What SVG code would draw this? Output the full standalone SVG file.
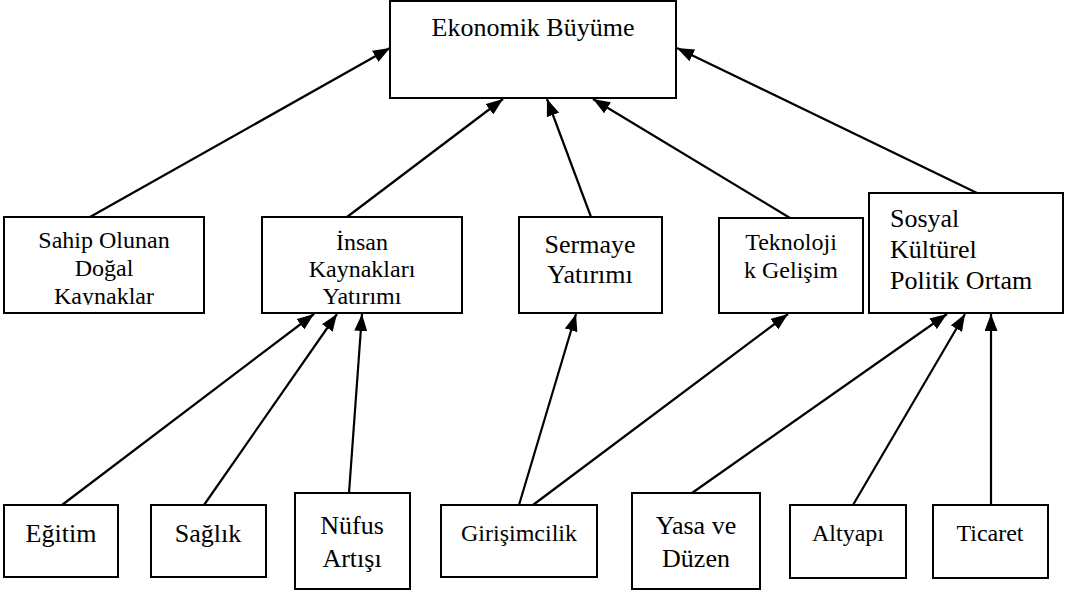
<svg xmlns="http://www.w3.org/2000/svg" width="1072" height="592" viewBox="0 0 1072 592">
<style>
  .box { fill: #fff; stroke: #000; stroke-width: 2; }
  .t { font-size: 24px; fill: #000; text-anchor: middle; }
  .l { font-size: 26px; }
  .left { text-anchor: start; }
  .c { stroke: #000; stroke-width: 2.2; fill: none; marker-end: url(#ah); }
</style>
<defs>
  <marker id="ah" markerUnits="userSpaceOnUse" markerWidth="17" markerHeight="13" refX="17" refY="6.5" orient="auto">
    <path d="M0,0 L17,6.5 L0,13 z" fill="#000"/>
  </marker>
  <clipPath id="clipSahip"><rect x="4" y="217" width="200" height="88"/></clipPath>
  <clipPath id="clipInsan"><rect x="262" y="217" width="200" height="88"/></clipPath>
</defs>
<rect width="1072" height="592" fill="#fff"/>

<g id="connectors">
  <line class="c" x1="90" y1="217" x2="390" y2="48"/>
  <line class="c" x1="347" y1="217" x2="503" y2="99"/>
  <line class="c" x1="591" y1="217" x2="547" y2="99"/>
  <line class="c" x1="790" y1="218" x2="593" y2="99"/>
  <line class="c" x1="977" y1="193" x2="677" y2="48"/>
  <line class="c" x1="62" y1="505" x2="314" y2="314"/>
  <line class="c" x1="204" y1="505" x2="337" y2="314"/>
  <line class="c" x1="349" y1="493" x2="362" y2="314"/>
  <line class="c" x1="519" y1="505" x2="576" y2="314"/>
  <line class="c" x1="533" y1="505" x2="788" y2="314"/>
  <line class="c" x1="692" y1="493" x2="947" y2="314"/>
  <line class="c" x1="853" y1="505" x2="965" y2="314"/>
  <line class="c" x1="991" y1="505" x2="991" y2="314"/>
</g>

<g id="nodes" font-family="Times New Roman">
<g id="ekonomik">
  <rect class="box" x="390" y="1" width="286" height="97"/>
  <text class="t l" x="533" y="36">Ekonomik Büyüme</text>
</g>

<g id="sahip">
  <rect class="box" x="4" y="217" width="200" height="96"/>
  <g clip-path="url(#clipSahip)">
    <text class="t" x="104" y="248">Sahip Olunan</text>
    <text class="t" x="104" y="276">Doğal</text>
    <text class="t" x="104" y="304">Kaynaklar</text>
  </g>
</g>

<g id="insan">
  <rect class="box" x="262" y="217" width="200" height="96"/>
  <g clip-path="url(#clipInsan)">
    <text class="t" x="362" y="250">İnsan</text>
    <text class="t" x="362" y="277">Kaynakları</text>
    <text class="t" x="362" y="304">Yatırımı</text>
  </g>
</g>

<g id="sermaye">
  <rect class="box" x="519" y="217" width="143" height="96"/>
  <text class="t l" x="590" y="253">Sermaye</text>
  <text class="t l" x="590" y="283">Yatırımı</text>
</g>

<g id="teknoloji">
  <rect class="box" x="719" y="218" width="144" height="95"/>
  <text class="t" x="791" y="250">Teknoloji</text>
  <text class="t" x="791" y="278">k Gelişim</text>
</g>

<g id="sosyal">
  <rect class="box" x="869" y="193" width="194" height="120"/>
  <text class="t l left" x="890" y="227">Sosyal</text>
  <text class="t l left" x="890" y="258">Kültürel</text>
  <text class="t l left" x="890" y="289">Politik Ortam</text>
</g>

<g id="egitim">
  <rect class="box" x="4" y="505" width="114" height="72"/>
  <text class="t l" x="61" y="542">Eğitim</text>
</g>

<g id="saglik">
  <rect class="box" x="151" y="505" width="115" height="72"/>
  <text class="t l" x="208" y="542">Sağlık</text>
</g>

<g id="nufus">
  <rect class="box" x="295" y="493" width="115" height="96"/>
  <text class="t l" x="352" y="534">Nüfus</text>
  <text class="t l" x="352" y="567">Artışı</text>
</g>

<g id="girisimcilik">
  <rect class="box" x="441" y="505" width="156" height="72"/>
  <text class="t" x="519" y="541">Girişimcilik</text>
</g>

<g id="yasa">
  <rect class="box" x="632" y="493" width="128" height="96"/>
  <text class="t l" x="696" y="534">Yasa ve</text>
  <text class="t l" x="696" y="567">Düzen</text>
</g>

<g id="altyapi">
  <rect class="box" x="790" y="505" width="116" height="73"/>
  <text class="t" x="848" y="541">Altyapı</text>
</g>

<g id="ticaret">
  <rect class="box" x="933" y="505" width="115" height="73"/>
  <text class="t" x="990" y="541">Ticaret</text>
</g>
</g>
</svg>
